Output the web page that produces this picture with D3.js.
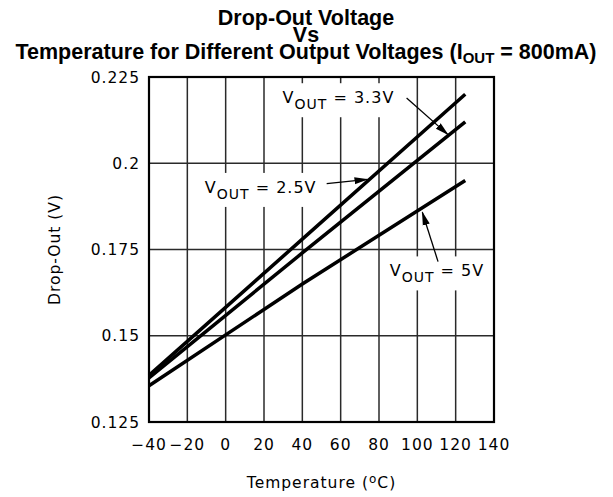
<!DOCTYPE html>
<html>
<head>
<meta charset="utf-8">
<script src="https://cdn.jsdelivr.net/npm/d3@7"></script>
<style>
  body { margin: 0; background: white; }
  svg { display: block; }
</style>
</head>
<body>
<svg id="chart" width="613" height="497"></svg>
<script>
// data (temperature in °C, drop-out in V)
const temps = [-40, 40, 125]
const vout25 = [0.1385, 0.178, 0.220]
const vout33 = [0.1378, 0.174, 0.212]
const vout5 = [0.1355, 0.165, 0.195]

const xTicks = [-40, -20, 0, 20, 40, 60, 80, 100, 120, 140]
const yTicks = [0.125, 0.15, 0.175, 0.2, 0.225]
const yTickLabels = ["0.125", "0.15", "0.175", "0.2", "0.225"]

// callouts: label anchor and arrow (from -> to) in data units
const calloutNames = ["3.3V", "2.5V", "5V"]
const calloutText = [[29.7, 0.2174], [-10.9, 0.1914], [85.6, 0.1672]]
const calloutArrow = [
  [[94.4, 0.2189], [116, 0.2083]],
  [[52.7, 0.1941], [74, 0.1953]],
  [[110.8, 0.1715], [102.6, 0.1858]]
]

const svg = d3.select("#chart")
const mLeft = 149, mTop = 77, w = 345, h = 345

const x = d3.scaleLinear().domain([-40, 140]).range([mLeft, mLeft + w])
const y = d3.scaleLinear().domain([0.125, 0.225]).range([mTop + h, mTop])

const labelFont = "'DejaVu Sans', sans-serif"

// title
const title = svg.append("g")
    .attr("font-family", "'Liberation Sans', Arial, sans-serif")
    .attr("font-weight", "bold")
    .attr("font-size", "21.5px")
    .attr("text-anchor", "middle")
    .attr("fill", "#000")
title.append("text").attr("x", 306).attr("y", 25).text("Drop-Out Voltage")
title.append("text").attr("x", 306).attr("y", 42).text("Vs")
const t3 = title.append("text").attr("x", 306).attr("y", 59)
t3.append("tspan").text("Temperature for Different Output Voltages (I")
t3.append("tspan").attr("font-size", "15px").attr("dy", 4).text("OUT")
t3.append("tspan").attr("dy", -4).text(" = 800mA)")

// grid
const grid = svg.append("g")
    .attr("stroke", "#2a2a2a")
    .attr("stroke-width", 1.5)
grid.selectAll("line.v")
    .data(xTicks.slice(1, -1))
    .join("line")
    .attr("class", "v")
    .attr("x1", d => x(d)).attr("x2", d => x(d))
    .attr("y1", mTop).attr("y2", mTop + h)
grid.selectAll("line.h")
    .data(yTicks.slice(1, -1))
    .join("line")
    .attr("class", "h")
    .attr("x1", mLeft).attr("x2", mLeft + w)
    .attr("y1", d => y(d)).attr("y2", d => y(d))

// tick labels
svg.append("g")
    .attr("font-family", labelFont)
    .attr("font-size", "15.5px")
    .attr("letter-spacing", "1px")
    .attr("text-anchor", "middle")
    .selectAll("text")
    .data(xTicks)
    .join("text")
    .attr("x", d => x(d))
    .attr("y", mTop + h + 28)
    .text(d => d < 0 ? "\u2212" + Math.abs(d) : d)

svg.append("g")
    .attr("font-family", labelFont)
    .attr("font-size", "15.5px")
    .attr("letter-spacing", "1px")
    .attr("text-anchor", "end")
    .selectAll("text")
    .data(yTicks)
    .join("text")
    .attr("x", mLeft - 9)
    .attr("y", d => y(d))
    .attr("dy", "0.36em")
    .text((d, i) => yTickLabels[i])

// axis titles
const xTitle = svg.append("text")
    .attr("font-family", labelFont)
    .attr("font-size", "15.5px")
    .attr("letter-spacing", "1px")
    .attr("text-anchor", "middle")
    .attr("x", mLeft + w / 2)
    .attr("y", mTop + h + 66)
xTitle.append("tspan").text("Temperature (")
xTitle.append("tspan").attr("font-size", "12px").attr("dy", -5).text("o")
xTitle.append("tspan").attr("dy", 5).text("C)")

svg.append("text")
    .attr("font-family", labelFont)
    .attr("font-size", "15.5px")
    .attr("letter-spacing", "1px")
    .attr("text-anchor", "middle")
    .attr("transform", `translate(60,${mTop + h / 2}) rotate(-90)`)
    .text("Drop-Out (V)")

// callout labels, with white boxes that knock out the grid behind them
const boxes = svg.append("g")
const callouts = svg.append("g")
    .attr("font-family", labelFont)
    .attr("font-size", "16px")
    .attr("letter-spacing", "1px")
    .style("white-space", "pre")

calloutNames.forEach((name, i) => {
    const t = callouts.append("text")
        .attr("x", x(calloutText[i][0]))
        .attr("y", y(calloutText[i][1]))
    t.append("tspan").text("V")
    t.append("tspan").attr("font-size", "14px").attr("dy", 6).text("OUT")
    t.append("tspan").attr("dy", -6).text("  =  " + name)
    const b = t.node().getBBox()
    boxes.append("rect")
        .attr("x", b.x - 7).attr("y", b.y - 5)
        .attr("width", b.width + 14).attr("height", b.height + 10)
        .attr("fill", "white")
})

// series
const line = d3.line().x(d => x(d[0])).y(d => y(d[1]))
const series = [vout25, vout33, vout5]
svg.append("g")
    .selectAll("path")
    .data(series)
    .join("path")
    .attr("d", s => line(temps.map((t, i) => [t, s[i]])))
    .attr("fill", "none")
    .attr("stroke", "black")
    .attr("stroke-width", 3.5)

// frame
svg.append("rect")
    .attr("x", mLeft).attr("y", mTop)
    .attr("width", w).attr("height", h)
    .attr("fill", "none")
    .attr("stroke", "black")
    .attr("stroke-width", 2.2)

// arrows
svg.append("defs").append("marker")
    .attr("id", "head")
    .attr("markerUnits", "userSpaceOnUse")
    .attr("viewBox", "0 -5 14 10")
    .attr("refX", 13).attr("refY", 0)
    .attr("markerWidth", 14).attr("markerHeight", 10)
    .attr("orient", "auto")
  .append("path")
    .attr("d", "M0,-3.6L14,0L0,3.6Z")
    .attr("fill", "black")

svg.append("g")
    .selectAll("line")
    .data(calloutArrow)
    .join("line")
    .attr("x1", d => x(d[0][0])).attr("y1", d => y(d[0][1]))
    .attr("x2", d => x(d[1][0])).attr("y2", d => y(d[1][1]))
    .attr("stroke", "black")
    .attr("stroke-width", 1.3)
    .attr("marker-end", "url(#head)")
</script>
</body>
</html>
